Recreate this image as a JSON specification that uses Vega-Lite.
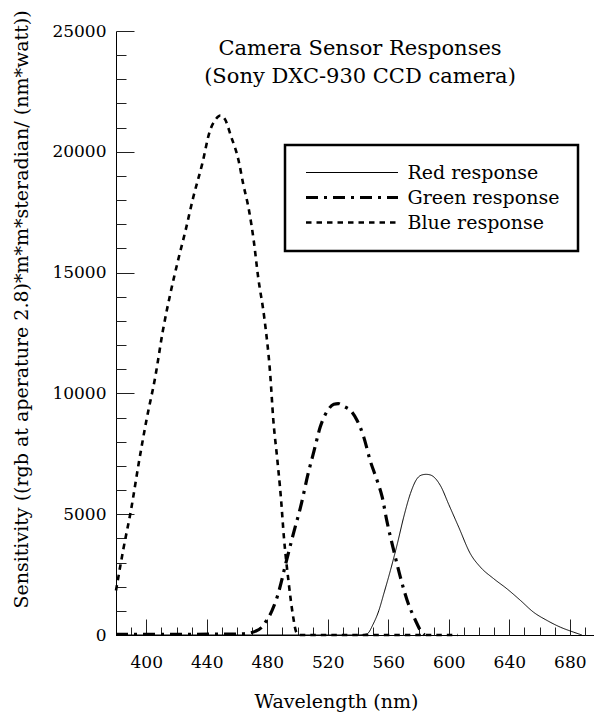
{
  "$schema": "https://vega.github.io/schema/vega-lite/v6.json",
  "width": 478,
  "height": 604,
  "autosize": "none",
  "padding": {"left": 116, "top": 31, "right": 0, "bottom": 78},
  "background": "white",
  "config": {
    "font": "DejaVu Serif",
    "view": {"stroke": null},
    "axis": {"grid": false, "domainColor": "#000", "domainWidth": 1, "tickColor": "#222", "tickWidth": 1, "labelColor": "#000", "titleColor": "#000", "titleFontWeight": "normal", "labelFont": "DejaVu Serif", "titleFont": "DejaVu Serif", "labelFlush": false, "labelOverlap": false},
    "legend": {"strokeWidth": 2.5}
  },
  "title": {
    "text": ["Camera Sensor Responses", "(Sony DXC-930 CCD camera)"],
    "fontSize": 21, "fontWeight": "normal", "font": "DejaVu Serif", "color": "#000",
    "anchor": "middle", "frame": "group", "baseline": "alphabetic", "lineHeight": 28,
    "offset": 0, "dx": 5, "dy": 94
  },
  "resolve": {"axis": {"x": "independent", "y": "independent"}},
  "layer": [
    {
      "data": {"values": [
        {"wl": 380, "v": 0, "series": "Red response"},
        {"wl": 460, "v": 0, "series": "Red response"},
        {"wl": 540, "v": 0, "series": "Red response"},
        {"wl": 546, "v": 50, "series": "Red response"},
        {"wl": 550, "v": 450, "series": "Red response"},
        {"wl": 553.7, "v": 1000, "series": "Red response"},
        {"wl": 557, "v": 1700, "series": "Red response"},
        {"wl": 561.4, "v": 2670, "series": "Red response"},
        {"wl": 566, "v": 3780, "series": "Red response"},
        {"wl": 570.2, "v": 4880, "series": "Red response"},
        {"wl": 574.6, "v": 5850, "series": "Red response"},
        {"wl": 579, "v": 6470, "series": "Red response"},
        {"wl": 582, "v": 6620, "series": "Red response"},
        {"wl": 585, "v": 6650, "series": "Red response"},
        {"wl": 588, "v": 6620, "series": "Red response"},
        {"wl": 594.5, "v": 6180, "series": "Red response"},
        {"wl": 600, "v": 5400, "series": "Red response"},
        {"wl": 606.6, "v": 4460, "series": "Red response"},
        {"wl": 614.3, "v": 3360, "series": "Red response"},
        {"wl": 620.9, "v": 2810, "series": "Red response"},
        {"wl": 629.7, "v": 2330, "series": "Red response"},
        {"wl": 638.5, "v": 1910, "series": "Red response"},
        {"wl": 647.4, "v": 1430, "series": "Red response"},
        {"wl": 656, "v": 945, "series": "Red response"},
        {"wl": 665, "v": 600, "series": "Red response"},
        {"wl": 673.8, "v": 323, "series": "Red response"},
        {"wl": 682.6, "v": 116, "series": "Red response"},
        {"wl": 688, "v": 0, "series": "Red response"},

        {"wl": 380, "v": 30, "series": "Green response"},
        {"wl": 420, "v": 30, "series": "Green response"},
        {"wl": 460, "v": 40, "series": "Green response"},
        {"wl": 468, "v": 80, "series": "Green response"},
        {"wl": 472, "v": 150, "series": "Green response"},
        {"wl": 476, "v": 300, "series": "Green response"},
        {"wl": 479, "v": 550, "series": "Green response"},
        {"wl": 481, "v": 740, "series": "Green response"},
        {"wl": 486.5, "v": 1565, "series": "Green response"},
        {"wl": 493, "v": 3150, "series": "Green response"},
        {"wl": 497.5, "v": 4250, "series": "Green response"},
        {"wl": 502, "v": 5290, "series": "Green response"},
        {"wl": 507, "v": 6675, "series": "Green response"},
        {"wl": 511, "v": 7640, "series": "Green response"},
        {"wl": 515, "v": 8605, "series": "Green response"},
        {"wl": 520, "v": 9300, "series": "Green response"},
        {"wl": 524, "v": 9550, "series": "Green response"},
        {"wl": 527, "v": 9580, "series": "Green response"},
        {"wl": 531, "v": 9450, "series": "Green response"},
        {"wl": 535, "v": 9300, "series": "Green response"},
        {"wl": 539.4, "v": 8880, "series": "Green response"},
        {"wl": 543.8, "v": 8190, "series": "Green response"},
        {"wl": 548, "v": 7225, "series": "Green response"},
        {"wl": 552.6, "v": 6400, "series": "Green response"},
        {"wl": 556, "v": 5705, "series": "Green response"},
        {"wl": 559, "v": 4740, "series": "Green response"},
        {"wl": 563.6, "v": 3500, "series": "Green response"},
        {"wl": 568, "v": 2393, "series": "Green response"},
        {"wl": 572.5, "v": 1430, "series": "Green response"},
        {"wl": 578, "v": 600, "series": "Green response"},
        {"wl": 582, "v": 120, "series": "Green response"},
        {"wl": 584, "v": 0, "series": "Green response"},

        {"wl": 380, "v": 1840, "series": "Blue response"},
        {"wl": 385, "v": 3600, "series": "Blue response"},
        {"wl": 390, "v": 5200, "series": "Blue response"},
        {"wl": 395, "v": 7100, "series": "Blue response"},
        {"wl": 400, "v": 8850, "series": "Blue response"},
        {"wl": 406, "v": 10700, "series": "Blue response"},
        {"wl": 411, "v": 12600, "series": "Blue response"},
        {"wl": 416, "v": 14150, "series": "Blue response"},
        {"wl": 421, "v": 15500, "series": "Blue response"},
        {"wl": 426, "v": 16750, "series": "Blue response"},
        {"wl": 431, "v": 18100, "series": "Blue response"},
        {"wl": 437, "v": 19500, "series": "Blue response"},
        {"wl": 442, "v": 20850, "series": "Blue response"},
        {"wl": 446, "v": 21350, "series": "Blue response"},
        {"wl": 449, "v": 21500, "series": "Blue response"},
        {"wl": 452, "v": 21350, "series": "Blue response"},
        {"wl": 456, "v": 20650, "series": "Blue response"},
        {"wl": 461, "v": 19650, "series": "Blue response"},
        {"wl": 464, "v": 18700, "series": "Blue response"},
        {"wl": 468, "v": 17550, "series": "Blue response"},
        {"wl": 471, "v": 16350, "series": "Blue response"},
        {"wl": 474, "v": 14800, "series": "Blue response"},
        {"wl": 478, "v": 13150, "series": "Blue response"},
        {"wl": 482, "v": 10750, "series": "Blue response"},
        {"wl": 484, "v": 8900, "series": "Blue response"},
        {"wl": 486.5, "v": 7350, "series": "Blue response"},
        {"wl": 489, "v": 5700, "series": "Blue response"},
        {"wl": 491, "v": 4050, "series": "Blue response"},
        {"wl": 494, "v": 2250, "series": "Blue response"},
        {"wl": 497, "v": 800, "series": "Blue response"},
        {"wl": 499, "v": 150, "series": "Blue response"},
        {"wl": 501, "v": 0, "series": "Blue response"},
        {"wl": 540, "v": 0, "series": "Blue response"},
        {"wl": 580, "v": 0, "series": "Blue response"},
        {"wl": 606, "v": 0, "series": "Blue response"}
      ]},
      "mark": {"type": "line", "interpolate": "monotone", "color": "#000"},
      "encoding": {
        "x": {
          "field": "wl", "type": "quantitative",
          "scale": {"domain": [380, 696], "nice": false, "zero": false},
          "axis": {
            "orient": "bottom",
            "values": [400, 440, 480, 520, 560, 600, 640, 680],
            "ticks": false, "labelFontSize": 17, "labelPadding": 19,
            "title": "Wavelength (nm)", "titleFontSize": 19,
            "titleX": 220, "titleY": 72, "titleBaseline": "alphabetic"
          }
        },
        "y": {
          "field": "v", "type": "quantitative",
          "scale": {"domain": [0, 25000], "nice": false},
          "axis": {
            "orient": "left",
            "values": [0, 5000, 10000, 15000, 20000, 25000],
            "format": "d",
            "ticks": false, "labelFontSize": 17, "labelPadding": 10,
            "title": "Sensitivity ((rgb at aperature 2.8)*m*m*steradian/ (nm*watt))",
            "titleFontSize": 19, "titleX": -89, "titleY": 278, "titleBaseline": "alphabetic"
          }
        },
        "strokeDash": {
          "field": "series", "type": "nominal",
          "scale": {
            "domain": ["Red response", "Green response", "Blue response"],
            "range": [[1, 0], [12, 6, 3, 6], [5.5, 5]]
          },
          "legend": {
            "orient": "none", "legendX": 169, "legendY": 114, "title": null,
            "symbolType": "M-46,0L46,0", "symbolSize": 4, "symbolOffset": 39.5,
            "symbolStrokeColor": "#000", "symbolStrokeWidth": 2.5,
            "labelOffset": 46, "labelFontSize": 19, "labelFont": "DejaVu Serif", "labelColor": "#000", "labelLimit": 0,
            "padding": 18, "rowPadding": 5, "strokeColor": "#000",
            "encode": {"symbols": {"update": {"strokeWidth": {"signal": "datum.value === 'Red response' ? 1 : (datum.value === 'Green response' ? 3 : 2.5)"}}}}
          }
        },
        "strokeWidth": {
          "condition": [
            {"test": "datum.series === 'Red response'", "value": 1},
            {"test": "datum.series === 'Green response'", "value": 3.2}
          ],
          "value": 2.6
        }
      }
    },
    {
      "data": {"values": []},
      "mark": {"type": "point", "opacity": 0},
      "encoding": {
        "x": {"field": "wl", "type": "quantitative", "axis": {
          "orient": "bottom",
          "values": [390, 400, 410, 420, 430, 440, 450, 460, 470, 480, 490, 500, 510, 520, 530, 540, 550, 560, 570, 580, 590, 600, 610, 620, 630, 640, 650, 660, 670, 680, 690],
          "labels": false, "domain": false, "tickSize": -8, "title": null}},
        "y": {"field": "v", "type": "quantitative", "axis": {
          "orient": "left",
          "values": [1000, 2000, 3000, 4000, 6000, 7000, 8000, 9000, 11000, 12000, 13000, 14000, 16000, 17000, 18000, 19000, 21000, 22000, 23000, 24000],
          "labels": false, "domain": false, "tickSize": -10, "title": null}}
      }
    },
    {
      "data": {"values": []},
      "mark": {"type": "point", "opacity": 0},
      "encoding": {
        "x": {"field": "wl", "type": "quantitative", "axis": {
          "orient": "bottom",
          "values": [400, 440, 480, 520, 560, 600, 640, 680],
          "labels": false, "domain": false, "tickSize": -16, "title": null}},
        "y": {"field": "v", "type": "quantitative", "axis": {
          "orient": "left",
          "values": [5000, 10000, 15000, 20000, 25000],
          "labels": false, "domain": false, "tickSize": -18, "title": null}}
      }
    }
  ]
}
